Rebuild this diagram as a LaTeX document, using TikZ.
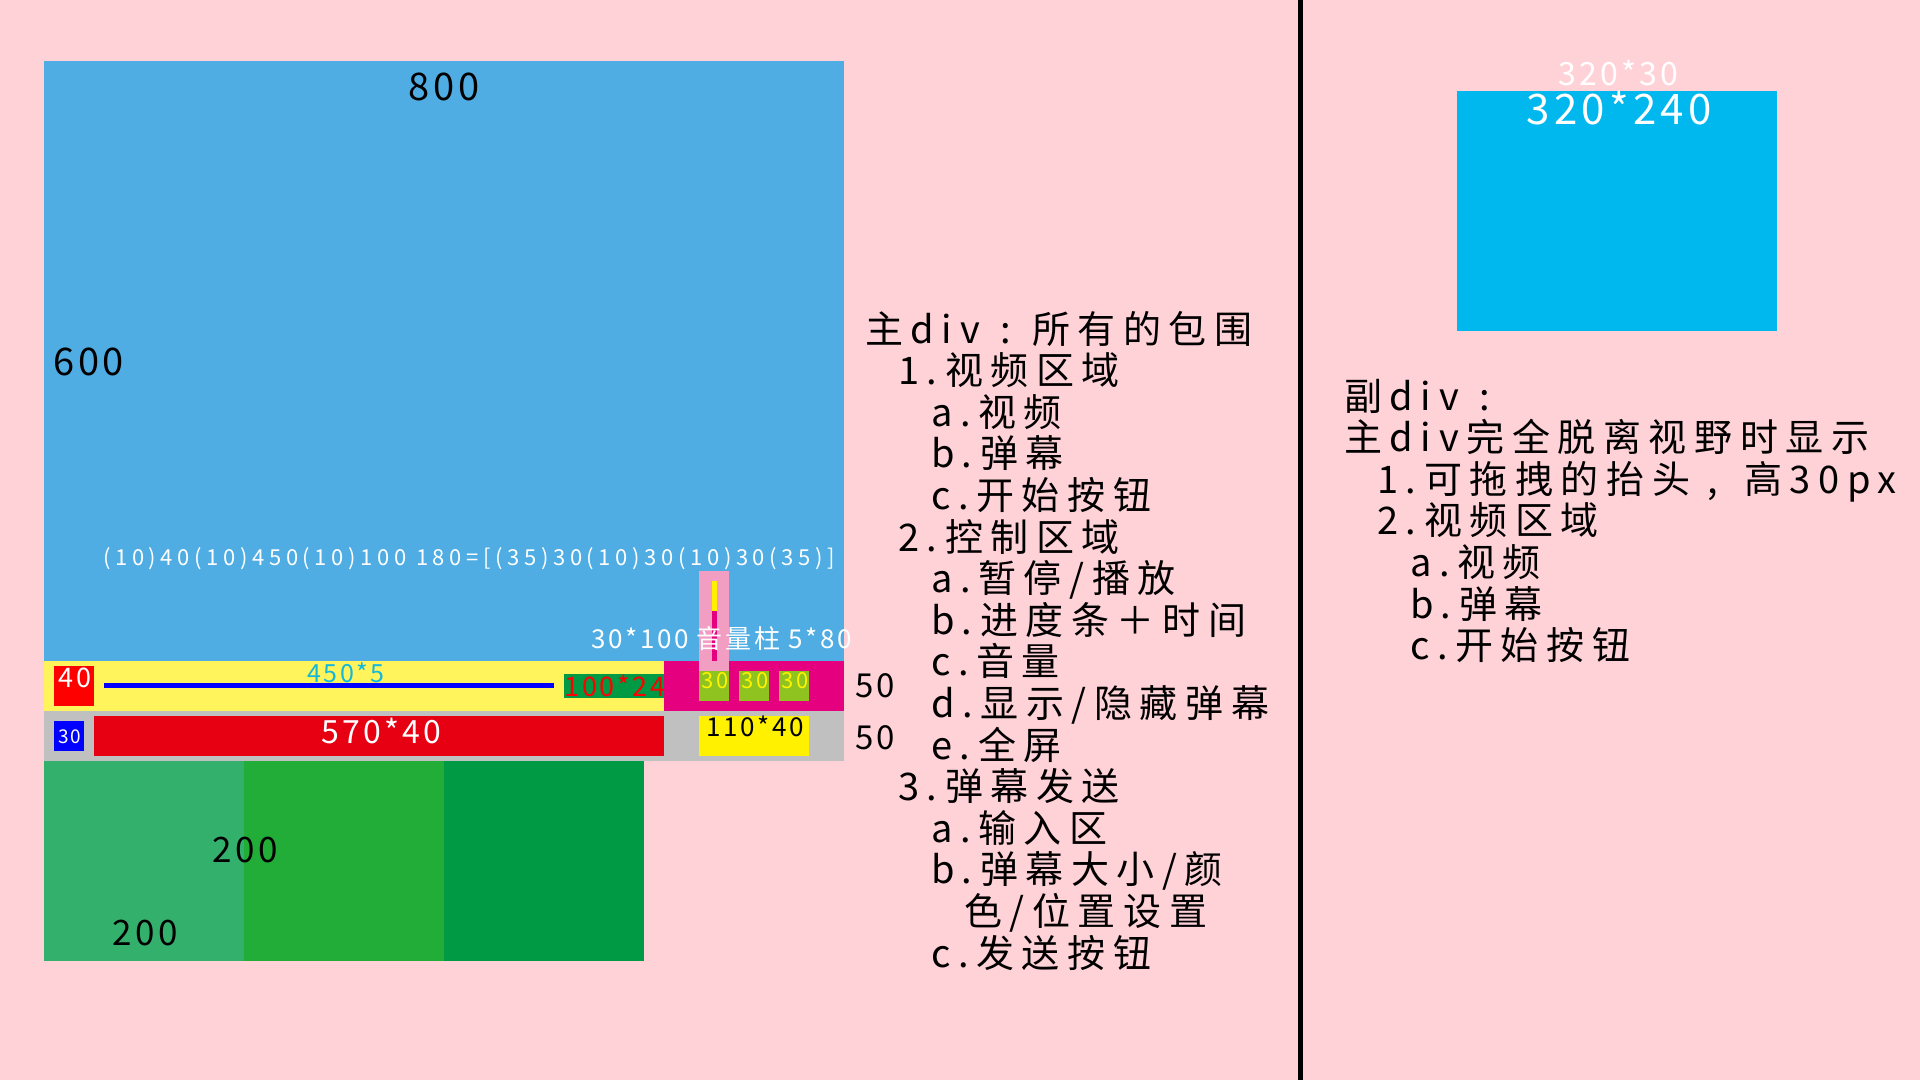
\documentclass[tikz,border=0pt]{standalone}
\usepackage{fontspec}
\setmainfont{Noto Sans CJK SC}[LetterSpace=20]
\newfontfamily\numfont{Noto Sans CJK SC}[LetterSpace=10]
\usepackage{tikz}
\newcommand{\fsz}[1]{\fontsize{#1}{#1}\selectfont}
\newcommand{\fwcolon}{\hspace{0.55em}:\hspace{0.55em}}
\newcommand{\fwcomma}{\hspace{0.45em},\hspace{0.7em}}

\definecolor{bgpink}{HTML}{FFD2D8}
\definecolor{vidblue}{HTML}{4FADE3}
\definecolor{subblue}{HTML}{00B7EE}
\definecolor{baryel}{HTML}{FFF45C}
\definecolor{magbar}{HTML}{E4007F}
\definecolor{olive}{HTML}{8FC31F}
\definecolor{volpink}{HTML}{F19EC2}
\definecolor{sendred}{HTML}{E60012}
\definecolor{btnyel}{HTML}{FFF100}
\definecolor{timegreen}{HTML}{009944}
\definecolor{ctrlgray}{HTML}{C0C0C0}
\definecolor{greenA}{HTML}{33B06C}
\definecolor{greenB}{HTML}{22AC38}
\definecolor{greenC}{HTML}{009A44}
\definecolor{progcyan}{HTML}{13B8DA}

\tikzset{
  lbl/.style={inner sep=0pt, anchor=base},
  item/.style={inner sep=0pt, anchor=base west, font=\fsz{38}},
}

\begin{document}
\begin{tikzpicture}[x=1pt,y=-1pt]
\fill[bgpink] (0,0) rectangle (1920,1080);
\useasboundingbox (0,0) rectangle (1920,1080);

% main div
\fill[vidblue] (44,61) rectangle (844,661);
\fill[baryel] (44,661) rectangle (664,711);
\fill[magbar] (664,661) rectangle (844,711);
\fill[ctrlgray] (44,711) rectangle (844,761);
\fill[greenA] (44,761) rectangle (244,961);
\fill[greenB] (244,761) rectangle (444,961);
\fill[greenC] (444,761) rectangle (644,961);

\fill[red] (54,666) rectangle (94,706);
\fill[blue] (104,683) rectangle (554,688);
\fill[timegreen] (564,674) rectangle (664,698);
\fill[volpink] (699,571) rectangle (729,671);
\fill[btnyel] (712,581) rectangle (717,611);
\fill[magbar] (712,611) rectangle (717,661);
\fill[olive] (699,671) rectangle (729,701);
\fill[olive] (739,671) rectangle (769,701);
\fill[olive] (779,671) rectangle (809,701);

\fill[blue] (54,721) rectangle (84,751);
\fill[sendred] (94,716) rectangle (664,756);
\fill[btnyel] (699,716) rectangle (809,756);

\node[lbl, font=\numfont\fsz{38}] (w800) at (444,100) {800};
\node[lbl, anchor=base west, font=\numfont\fsz{38}] (h600) at (53,375) {600};
\node[lbl, anchor=base west, font=\fsz{22}\addfontfeature{LetterSpace=21}, white] (calc) at (103,565) {(10)40(10)450(10)100 180=[(35)30(10)30(10)30(35)]};
\node[lbl, anchor=base west, font=\numfont\fsz{26}, white] (vol) at (591,648) {30*100 音量柱 5*80};
\node[lbl, font=\numfont\fsz{25}, progcyan] (prog) at (346,682) {450*5};
\node[lbl, font=\numfont\fsz{27}, white] (play) at (75,687) {40};
\node[lbl, font=\numfont\fsz{27}, red] (time) at (615,696) {100*24};
\node[lbl, font=\numfont\fsz{22}, yellow] (b1) at (715,688) {30};
\node[lbl, font=\numfont\fsz{22}, yellow] (b2) at (755,688) {30};
\node[lbl, font=\numfont\fsz{22}, yellow] (b3) at (795,688) {30};
\node[lbl, font=\numfont\fsz{19}, white] (sz) at (70,743) {30};
\node[lbl, font=\numfont\fsz{32}, white] (inp) at (381,743) {570*40};
\node[lbl, font=\numfont\fsz{26}] (send) at (755,736) {110*40};
\node[lbl, anchor=base west, font=\numfont\fsz{33}] (r1) at (855,697) {50};
\node[lbl, anchor=base west, font=\numfont\fsz{33}] (r2) at (855,749) {50};
\node[lbl, font=\numfont\fsz{35}] (g1) at (245,862) {200};
\node[lbl, font=\numfont\fsz{35}] (g2) at (145,945) {200};

% main list
\node[item] (m0) at (865,343) {主div\fwcolon 所有的包围};
\node[item] (m1) at (898,384.6) {1.视频区域};
\node[item] (m2) at (931,426.2) {a.视频};
\node[item] (m3) at (931,467.8) {b.弹幕};
\node[item] (m4) at (931,509.4) {c.开始按钮};
\node[item] (m5) at (898,551) {2.控制区域};
\node[item] (m6) at (931,592.6) {a.暂停/播放};
\node[item] (m7) at (931,634.2) {b.进度条＋时间};
\node[item] (m8) at (931,675.8) {c.音量};
\node[item] (m9) at (931,717.4) {d.显示/隐藏弹幕};
\node[item] (m10) at (931,759) {e.全屏};
\node[item] (m11) at (898,800.6) {3.弹幕发送};
\node[item] (m12) at (931,842.2) {a.输入区};
\node[item] (m13) at (931,883.8) {b.弹幕大小/颜};
\node[item] (m14) at (964,925.4) {色/位置设置};
\node[item] (m15) at (931,967) {c.发送按钮};

\draw[line width=5pt] (1300.5,0) -- (1300.5,1080);

% sub div
\fill[subblue] (1457,91) rectangle (1777,331);
\node[lbl, font=\numfont\fsz{32}, white] (head) at (1618,85) {320*30};
\node[lbl, font=\numfont\fsz{42}, white] (sub) at (1619,124) {320*240};

\node[item] (s0) at (1344,410) {副div\fwcolon};
\node[item] (s1) at (1344,451.6) {主div完全脱离视野时显示};
\node[item] (s2) at (1377,493.2) {1.可拖拽的抬头\fwcomma 高30px};
\node[item] (s3) at (1377,534.8) {2.视频区域};
\node[item] (s4) at (1410,576.4) {a.视频};
\node[item] (s5) at (1410,618) {b.弹幕};
\node[item] (s6) at (1410,659.6) {c.开始按钮};
\end{tikzpicture}
\end{document}
